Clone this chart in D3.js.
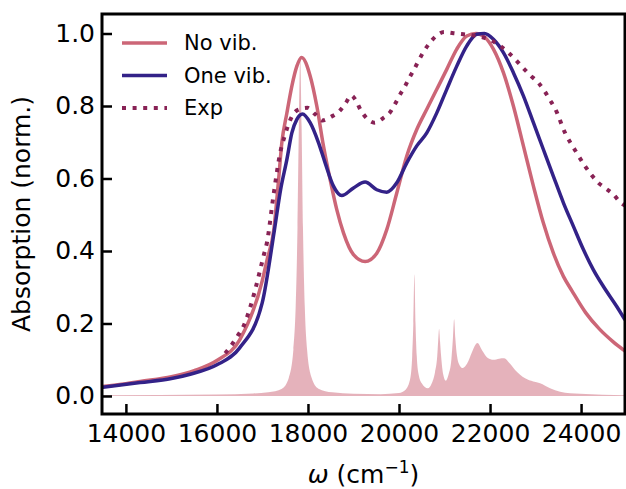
<!DOCTYPE html>
<html lang="en">
<head>
    <script src="https://d3js.org/d3.v7.min.js"></script>
</head>
<style>
    body { margin: 0; background: white; }
    text { font-family: "DejaVu Sans", sans-serif; }
</style>
<body>
<script>
    // size of the figure
    const w = 626
    const h = 489

    // series: [wavenumber, absorption]
    const noVib = [
        [13475, 0.026], [14000, 0.034], [14314, 0.040], [15000, 0.053], [15500, 0.070],
        [16000, 0.098], [16500, 0.155], [17000, 0.320], [17100, 0.375], [17250, 0.459],
        [17350, 0.590], [17426, 0.699], [17536, 0.780], [17646, 0.855], [17756, 0.910],
        [17860, 0.934], [18048, 0.883], [18194, 0.800], [18340, 0.690], [18487, 0.597],
        [18633, 0.514], [18780, 0.450], [19000, 0.390], [19256, 0.371], [19512, 0.394],
        [19731, 0.459], [19951, 0.560], [20171, 0.662], [20390, 0.735], [20610, 0.791],
        [20830, 0.846], [21049, 0.901], [21269, 0.957], [21489, 0.993], [21690, 1.000],
        [21891, 0.989], [22074, 0.957], [22294, 0.892], [22513, 0.800], [22733, 0.690],
        [22953, 0.579], [23172, 0.477], [23392, 0.394], [23612, 0.330], [23800, 0.290],
        [24100, 0.230], [24400, 0.185], [24700, 0.150], [24966, 0.124]
    ]

    const oneVib = [
        [13475, 0.024], [14314, 0.037], [15000, 0.048], [15412, 0.060], [16000, 0.086],
        [16495, 0.132], [16993, 0.256], [17264, 0.459], [17400, 0.570], [17536, 0.652],
        [17646, 0.726], [17756, 0.763], [17880, 0.778], [18048, 0.754], [18231, 0.699],
        [18377, 0.643], [18560, 0.579], [18743, 0.553], [19000, 0.574], [19256, 0.590],
        [19512, 0.569], [19731, 0.562], [19951, 0.588], [20171, 0.643], [20390, 0.690],
        [20610, 0.726], [20830, 0.781], [21049, 0.846], [21269, 0.910], [21489, 0.966],
        [21708, 0.998], [21876, 1.000], [22074, 0.984], [22294, 0.947], [22513, 0.892],
        [22733, 0.828], [22953, 0.754], [23172, 0.680], [23392, 0.606], [23612, 0.533],
        [23832, 0.468], [24051, 0.404], [24271, 0.348], [24491, 0.302], [24784, 0.247],
        [24966, 0.210]
    ]

    const expData = [
        [16181, 0.118], [16291, 0.135], [16450, 0.165], [16583, 0.192], [16715, 0.238],
        [16840, 0.293], [16950, 0.348], [17022, 0.385], [17097, 0.422], [17250, 0.560],
        [17390, 0.671], [17500, 0.722], [17571, 0.749], [17660, 0.774], [17790, 0.790],
        [17990, 0.795], [18160, 0.777], [18318, 0.760], [18502, 0.770], [18692, 0.786],
        [18824, 0.807], [18949, 0.829], [19058, 0.814], [19153, 0.790], [19278, 0.768],
        [19460, 0.754], [19645, 0.766], [19806, 0.783], [19915, 0.806], [20025, 0.832],
        [20134, 0.855], [20229, 0.878], [20332, 0.901], [20427, 0.924], [20537, 0.949],
        [20669, 0.973], [20815, 0.993], [20991, 1.004], [21196, 1.001], [21415, 0.998],
        [21635, 0.995], [21855, 0.989], [22038, 0.980], [22221, 0.966], [22404, 0.947],
        [22550, 0.929], [22697, 0.909], [22880, 0.885], [23063, 0.864], [23209, 0.839],
        [23319, 0.816], [23429, 0.793], [23648, 0.726], [23868, 0.678], [24088, 0.634],
        [24234, 0.609], [24380, 0.588], [24527, 0.574], [24710, 0.556], [24856, 0.535],
        [24966, 0.525]
    ]

    // the shaded stick spectrum underneath
    const sticks = [
        [13475, 0.002], [16000, 0.004], [16800, 0.007], [17130, 0.010], [17430, 0.020],
        [17580, 0.050], [17680, 0.128], [17730, 0.246], [17770, 0.465], [17800, 0.744],
        [17830, 0.930], [17860, 0.744], [17890, 0.465], [17930, 0.246], [17980, 0.128],
        [18080, 0.050], [18230, 0.020], [18530, 0.010], [19000, 0.006], [19600, 0.005],
        [20000, 0.008], [20150, 0.018], [20250, 0.050], [20290, 0.110], [20315, 0.200],
        [20339, 0.335], [20363, 0.200], [20390, 0.110], [20430, 0.060], [20500, 0.035],
        [20633, 0.021], [20720, 0.035], [20790, 0.065], [20840, 0.110], [20860, 0.150],
        [20881, 0.185], [20902, 0.150], [20925, 0.110], [20970, 0.060], [21028, 0.042],
        [21090, 0.060], [21150, 0.100], [21185, 0.160], [21211, 0.212], [21237, 0.160],
        [21275, 0.110], [21330, 0.085], [21402, 0.077], [21500, 0.090], [21600, 0.120],
        [21722, 0.146], [21830, 0.125], [21950, 0.105], [22073, 0.100], [22200, 0.103],
        [22309, 0.104], [22430, 0.090], [22550, 0.072], [22770, 0.049], [22950, 0.040],
        [23099, 0.035], [23319, 0.021], [23539, 0.012], [23978, 0.006], [24966, 0.002]
    ]

    const xTicks = [14000, 16000, 18000, 20000, 22000, 24000]
    const yTicks = [0, 0.2, 0.4, 0.6, 0.8, 1.0]
    const legendNames = ["No vib.", "One vib.", "Exp"]

    const colNo = "#CC6677"
    const colOne = "#332288"
    const colExp = "#882255"

    // plot box in pixels
    const boxL = 102, boxR = 625, boxT = 14, boxB = 414

    let svg = d3.select("body")
        .append("svg")
        .attr("width", w)
        .attr("height", h)

    let xScale = d3.scaleLinear()
        .domain([13475, 24965])
        .range([boxL, boxR])

    let yScale = d3.scaleLinear()
        .domain([-0.0497, 1.0538])
        .range([boxB, boxT])

    svg.append("clipPath").attr("id", "box")
        .append("rect")
        .attr("x", boxL).attr("y", boxT)
        .attr("width", boxR - boxL).attr("height", boxB - boxT)

    let plot = svg.append("g").attr("clip-path", "url(#box)")

    // shaded area first so the lines sit on top
    let area = d3.area()
        .x(d => xScale(d[0]))
        .y0(yScale(0))
        .y1(d => yScale(d[1]))
        .curve(d3.curveMonotoneX)

    plot.append("path")
        .datum(sticks)
        .attr("d", area)
        .attr("fill", colNo)
        .attr("fill-opacity", 0.5)

    let line = d3.line()
        .x(d => xScale(d[0]))
        .y(d => yScale(d[1]))
        .curve(d3.curveMonotoneX)

    plot.append("path").datum(noVib)
        .attr("d", line).attr("fill", "none")
        .attr("stroke", colNo).attr("stroke-width", 3.5)

    plot.append("path").datum(oneVib)
        .attr("d", line).attr("fill", "none")
        .attr("stroke", colOne).attr("stroke-width", 3.5)

    plot.append("path").datum(expData)
        .attr("d", line).attr("fill", "none")
        .attr("stroke", colExp).attr("stroke-width", 4)
        .attr("stroke-dasharray", "4,6.6")

    // axes, ticks pointing inwards
    let xaxis = d3.axisBottom(xScale)
        .tickValues(xTicks)
        .tickFormat(d3.format("d"))
        .tickSizeInner(-10)
        .tickSizeOuter(0)
        .tickPadding(10)

    let yaxis = d3.axisLeft(yScale)
        .tickValues(yTicks)
        .tickFormat(d3.format(".1f"))
        .tickSizeInner(-10)
        .tickSizeOuter(0)
        .tickPadding(7)

    let gx = svg.append("g")
        .attr("transform", "translate(0," + boxB + ")")
        .call(xaxis)

    let gy = svg.append("g")
        .attr("transform", "translate(" + boxL + ",0)")
        .call(yaxis)

    for (let g of [gx, gy]) {
        g.select(".domain").remove()
        g.selectAll("line").attr("stroke", "black").attr("stroke-width", 2.5)
        g.selectAll("text")
            .attr("font-size", "25px")
            .attr("font-family", "DejaVu Sans")
            .attr("fill", "black")
    }

    // frame
    svg.append("rect")
        .attr("x", boxL).attr("y", boxT)
        .attr("width", boxR - boxL).attr("height", boxB - boxT)
        .attr("fill", "none")
        .attr("stroke", "black")
        .attr("stroke-width", 3)

    // axis titles
    let xl = svg.append("text")
        .attr("x", (boxL + boxR) / 2)
        .attr("y", 483)
        .attr("text-anchor", "middle")
        .attr("font-size", "25px")
    xl.append("tspan").attr("font-style", "italic").text("ω")
    xl.append("tspan").text(" (cm")
    xl.append("tspan").attr("font-size", "17px").attr("dy", -10).text("−1")
    xl.append("tspan").attr("dy", 10).text(")")

    svg.append("text")
        .attr("transform", "translate(30," + (boxT + boxB) / 2 + ") rotate(-90)")
        .attr("text-anchor", "middle")
        .attr("font-size", "25px")
        .text("Absorption (norm.)")

    // legend
    const legendStyle = [
        { c: colNo, wd: 3.5, dash: null },
        { c: colOne, wd: 3.5, dash: null },
        { c: colExp, wd: 4, dash: "4,6.6" }
    ]
    legendNames.forEach((name, i) => {
        let y = 43 + i * 32.5
        svg.append("line")
            .attr("x1", 122).attr("x2", 167)
            .attr("y1", y).attr("y2", y)
            .attr("stroke", legendStyle[i].c)
            .attr("stroke-width", legendStyle[i].wd)
            .attr("stroke-dasharray", legendStyle[i].dash)
        svg.append("text")
            .attr("x", 184).attr("y", y)
            .attr("dy", "0.35em")
            .attr("font-size", "21px")
            .text(name)
    })
</script>
</body>
</html>
